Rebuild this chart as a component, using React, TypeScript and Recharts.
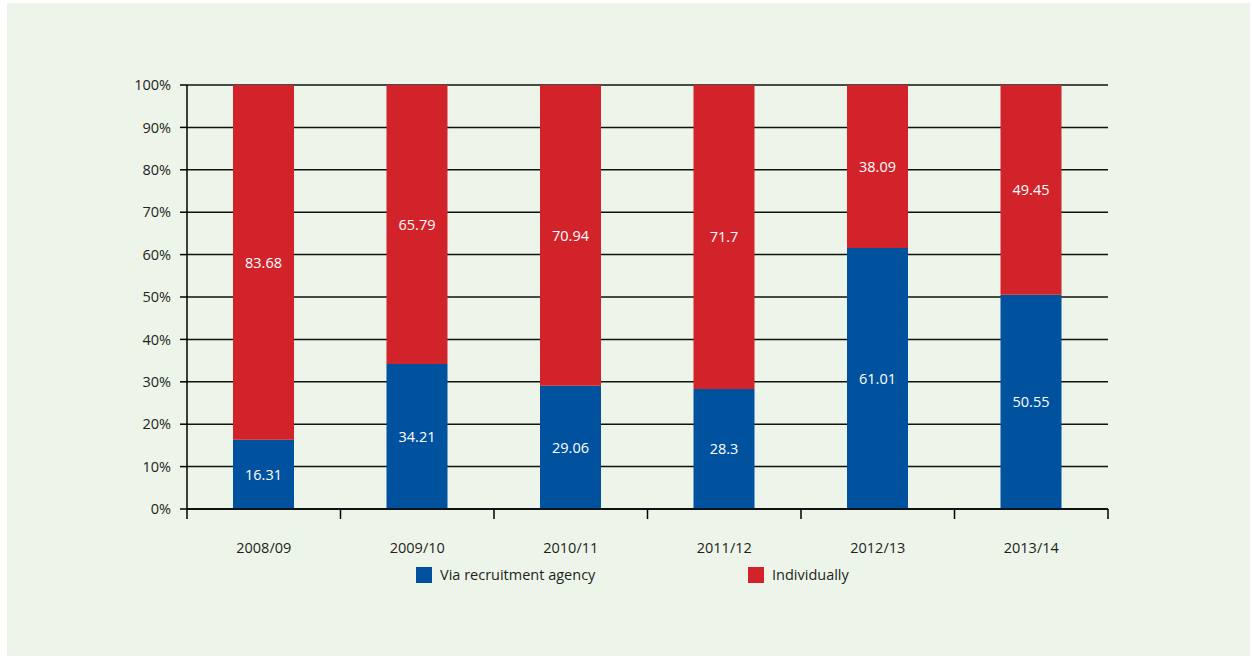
import { BarChart, Bar, XAxis, YAxis, CartesianGrid, LabelList } from 'recharts';

const years = ['2008/09', '2009/10', '2010/11', '2011/12', '2012/13', '2013/14'];
const viaAgency = [16.31, 34.21, 29.06, 28.3, 61.01, 50.55];
const individually = [83.68, 65.79, 70.94, 71.7, 38.09, 49.45];
const yTicks = [0, 0.1, 0.2, 0.3, 0.4, 0.5, 0.6, 0.7, 0.8, 0.9, 1];

const data = years.map((year, i) => ({
  year,
  agency: viaAgency[i],
  individual: individually[i],
}));

const BLUE = '#00529f';
const RED = '#d2232a';
const FONT = '"Open Sans", sans-serif';
const TEXT = '#231f20';

const PLOT_LEFT = 187;
const PLOT_RIGHT = 1108;
const band = (PLOT_RIGHT - PLOT_LEFT) / years.length;

// x ticks sit on the category boundaries, labels in the middle
const XTick = (props: any) => {
  const { x, y, payload, index } = props;
  const left = x - band / 2;
  const isLast = index === years.length - 1;
  return (
    <g>
      <line x1={left} x2={left} y1={y - 8} y2={y + 2} stroke="#000" strokeWidth={1.5} />
      {isLast && (
        <line x1={left + band} x2={left + band} y1={y - 8} y2={y + 2} stroke="#000" strokeWidth={1.5} />
      )}
      <text x={x} y={y + 30} textAnchor="middle" dominantBaseline="central" fontSize={14.5} fill={TEXT} fontFamily={FONT}>
        {payload.value}
      </text>
    </g>
  );
};

const LegendBox = () => {
  const items = [
    { name: 'Via recruitment agency', color: BLUE, left: 416 },
    { name: 'Individually', color: RED, left: 748 },
  ];
  return (
    <>
      {items.map((item) => (
        <div
          key={item.name}
          style={{
            position: 'absolute',
            left: item.left,
            top: 565,
            display: 'flex',
            alignItems: 'center',
            fontFamily: FONT,
            fontSize: 14.5,
            color: TEXT,
          }}
        >
          <span style={{ width: 16, height: 16, background: item.color, marginRight: 8 }} />
          {item.name}
        </div>
      ))}
    </>
  );
};

export default function App() {
  return (
    <div style={{ position: 'absolute', left: 0, top: 0, width: 1252, height: 658, background: '#fff' }}>
      <div style={{ position: 'absolute', left: 7, top: 3, width: 1243, height: 653, background: '#edf5ea' }} />
      <div style={{ position: 'absolute', left: 0, top: 0 }}>
        <BarChart
          width={1252}
          height={658}
          data={data}
          stackOffset="expand"
          margin={{ top: 85, right: 1252 - PLOT_RIGHT, bottom: 119, left: 0 }}
          barSize={61}
        >
          <CartesianGrid vertical={false} stroke="#111" strokeWidth={1.5} />
          <XAxis
            dataKey="year"
            axisLine={{ stroke: '#000', strokeWidth: 1.5 }}
            tickLine={false}
            tick={<XTick />}
            height={30}
            interval={0}
          />
          <YAxis
            width={PLOT_LEFT}
            domain={[0, 1]}
            ticks={yTicks}
            tickFormatter={(v: number) => `${Math.round(v * 100)}%`}
            axisLine={{ stroke: '#000', strokeWidth: 1.5 }}
            tickLine={{ stroke: '#000', strokeWidth: 1.5 }}
            tickSize={7}
            tickMargin={9}
            tick={{ fontSize: 14.5, fill: TEXT, fontFamily: FONT }}
          />
          <Bar dataKey="agency" stackId="a" fill={BLUE} isAnimationActive={false}>
            <LabelList dataKey="agency" position="center" fill="#fff" fontSize={14.5} fontFamily={FONT} />
          </Bar>
          <Bar dataKey="individual" stackId="a" fill={RED} isAnimationActive={false}>
            <LabelList dataKey="individual" position="center" fill="#fff" fontSize={14.5} fontFamily={FONT} />
          </Bar>
        </BarChart>
      </div>
      <LegendBox />
    </div>
  );
}
